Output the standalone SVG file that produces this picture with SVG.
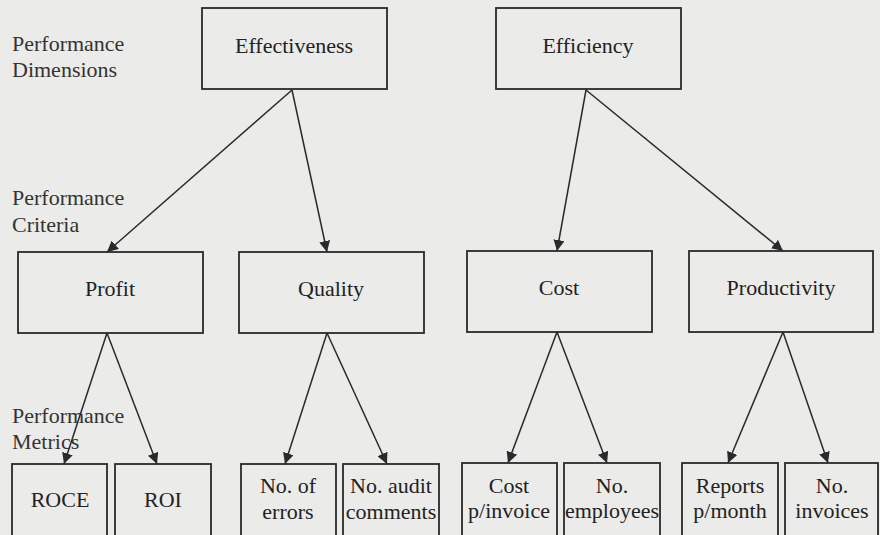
<svg xmlns="http://www.w3.org/2000/svg" width="880" height="535" viewBox="0 0 880 535">
<style>
.bg{fill:#ebebea}
.box{fill:none;stroke:#2a2a2a;stroke-width:1.8}
.t{font-family:"Liberation Serif","Times New Roman",serif;font-size:22px;fill:#222;text-anchor:middle}
.lbl{font-family:"Liberation Serif","Times New Roman",serif;font-size:22px;fill:#333}
.c{stroke:#2a2a2a;stroke-width:1.5;fill:none;marker-end:url(#ah)}
</style>
<defs>
<marker id="ah" viewBox="0 0 10 10" refX="10" refY="5" markerWidth="11" markerHeight="11" markerUnits="userSpaceOnUse" orient="auto">
<path d="M0,0 L10,5 L0,10 z" fill="#2a2a2a"/>
</marker>
</defs>
<rect class="bg" x="0" y="0" width="880" height="535"/>
<g id="labels">
<text class="lbl" x="12" y="51">Performance</text>
<text class="lbl" x="12" y="77">Dimensions</text>
<text class="lbl" x="12" y="205">Performance</text>
<text class="lbl" x="12" y="232">Criteria</text>
<text class="lbl" x="12" y="423">Performance</text>
<text class="lbl" x="12" y="449">Metrics</text>
</g>
<g id="connectors">
<line class="c" x1="292" y1="90" x2="107" y2="252"/>
<line class="c" x1="292" y1="90" x2="327" y2="252"/>
<line class="c" x1="586" y1="90" x2="557" y2="251"/>
<line class="c" x1="586" y1="90" x2="783" y2="251"/>
<line class="c" x1="107" y1="333" x2="64" y2="464"/>
<line class="c" x1="107" y1="333" x2="157" y2="464"/>
<line class="c" x1="327" y1="333" x2="285" y2="464"/>
<line class="c" x1="327" y1="333" x2="387" y2="464"/>
<line class="c" x1="557" y1="332" x2="508" y2="463"/>
<line class="c" x1="557" y1="332" x2="607" y2="463"/>
<line class="c" x1="783" y1="332" x2="728" y2="463"/>
<line class="c" x1="783" y1="332" x2="828" y2="463"/>
</g>
<g id="effectiveness"><rect class="box" x="202" y="8" width="185" height="81"/><text class="t" x="294" y="53">Effectiveness</text></g>
<g id="efficiency"><rect class="box" x="496" y="8" width="185" height="81"/><text class="t" x="588" y="53">Efficiency</text></g>
<g id="profit"><rect class="box" x="18" y="252" width="185" height="81"/><text class="t" x="110" y="296">Profit</text></g>
<g id="quality"><rect class="box" x="239" y="252" width="185" height="81"/><text class="t" x="331" y="296">Quality</text></g>
<g id="cost"><rect class="box" x="467" y="251" width="185" height="81"/><text class="t" x="559" y="295">Cost</text></g>
<g id="productivity"><rect class="box" x="689" y="251" width="184" height="81"/><text class="t" x="781" y="295">Productivity</text></g>
<g id="roce"><rect class="box" x="12" y="464" width="95" height="80"/><text class="t" x="60" y="507">ROCE</text></g>
<g id="roi"><rect class="box" x="115" y="464" width="96" height="80"/><text class="t" x="163" y="507">ROI</text></g>
<g id="errors"><rect class="box" x="241" y="464" width="95" height="80"/><text class="t" x="288" y="493">No. of</text><text class="t" x="288" y="519">errors</text></g>
<g id="audit"><rect class="box" x="343" y="464" width="96" height="80"/><text class="t" x="391" y="493">No. audit</text><text class="t" x="391" y="519">comments</text></g>
<g id="costinv"><rect class="box" x="462" y="463" width="95" height="80"/><text class="t" x="509" y="493">Cost</text><text class="t" x="509" y="518">p/invoice</text></g>
<g id="employees"><rect class="box" x="564" y="463" width="96" height="80"/><text class="t" x="612" y="493">No.</text><text class="t" x="612" y="518">employees</text></g>
<g id="reports"><rect class="box" x="682" y="463" width="96" height="80"/><text class="t" x="730" y="493">Reports</text><text class="t" x="730" y="518">p/month</text></g>
<g id="invoices"><rect class="box" x="785" y="463" width="93" height="80"/><text class="t" x="832" y="493">No.</text><text class="t" x="832" y="518">invoices</text></g>
</svg>
